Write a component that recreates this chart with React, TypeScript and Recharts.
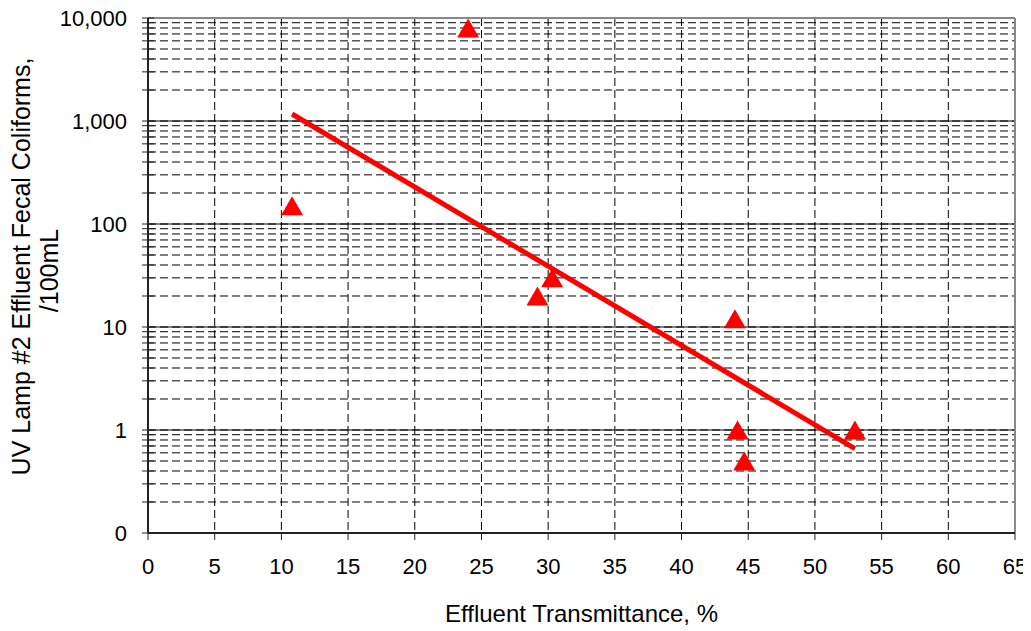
import React from "react";
import {
  ScatterChart, Scatter, XAxis, YAxis, CartesianGrid, ReferenceLine, Label,
} from "recharts";

// effluent transmittance (%) vs UV lamp #2 effluent fecal coliforms (/100mL)
const transmittance = [10.8, 24.0, 29.2, 30.3, 44.0, 44.2, 44.7, 53.0];
const coliforms = [150, 8000, 20, 30, 12, 1, 0.5, 1];

// exponential trendline end points
const trendX = [10.8, 53.0];
const trendY = [1170, 0.66];

const xTicks = [0, 5, 10, 15, 20, 25, 30, 35, 40, 45, 50, 55, 60, 65];
const yMajor = [0.1, 1, 10, 100, 1000, 10000];
const yLabels = ["0", "1", "10", "100", "1,000", "10,000"];
const yMinorSteps = [2, 3, 4, 5, 6, 7, 8, 9];

const points = transmittance.map((x, i) => ({ x, y: coliforms[i] }));
const trend = trendX.map((x, i) => ({ x, y: trendY[i] }));
const yTicks = [
  ...yMajor,
  ...yMajor.slice(0, -1).flatMap((d) => yMinorSteps.map((s) => d * s)),
].sort((a, b) => a - b);

const RED = "#ff0000";
const AXIS = "#222";

function Triangle(props: any) {
  const { cx, cy } = props;
  if (cx == null || cy == null) return <g />;
  return (
    <path
      d={`M${cx},${cy - 9.5} L${cx + 11},${cy + 9.5} L${cx - 11},${cy + 9.5} Z`}
      fill={RED}
    />
  );
}

function YTick(props: any) {
  const { x, y, payload } = props;
  const i = yMajor.indexOf(payload.value);
  return (
    <g>
      <line x1={x + 15} x2={x + 27} y1={y} y2={y} stroke={AXIS} />
      {i >= 0 && (
        <text x={x} y={y} dy="0.35em" textAnchor="end" fontSize={22} fill="#000">
          {yLabels[i]}
        </text>
      )}
    </g>
  );
}

function YTitle(props: any) {
  const vb = props.viewBox;
  const cy = vb.y + vb.height / 2;
  const y1 = cy - 9;
  const y2 = cy - 5;
  return (
    <g fontSize={25} fill="#000">
      <text x={13} y={y1} transform={`rotate(-90 13 ${y1})`} textAnchor="middle" dominantBaseline="central">
        UV Lamp #2 Effluent Fecal Coliforms,
      </text>
      <text x={41} y={y2} transform={`rotate(-90 41 ${y2})`} textAnchor="middle" dominantBaseline="central">
        /100mL
      </text>
    </g>
  );
}

export default function App() {
  return (
    <div style={{ fontFamily: "'Liberation Sans', Arial, sans-serif" }}>
      <style>{`.recharts-surface { overflow: visible; }`}</style>
      <ScatterChart width={1015} height={623} margin={{ top: 10, right: 8, bottom: 0, left: 0 }}>
        <CartesianGrid stroke="#000" strokeDasharray="8 4" />
        <XAxis
          type="number"
          dataKey="x"
          domain={[0, 65]}
          ticks={xTicks}
          interval={0}
          height={98}
          tickSize={7}
          tickMargin={18}
          tick={{ fill: "#000", fontSize: 22 }}
          tickLine={{ stroke: AXIS }}
          axisLine={{ stroke: AXIS, strokeWidth: 2 }}
        >
          <Label value="Effluent Transmittance, %" position="insideBottom" offset={9} fontSize={24} fill="#000" />
        </XAxis>
        <YAxis
          type="number"
          dataKey="y"
          scale="log"
          domain={[0.1, 10000]}
          allowDataOverflow
          ticks={yTicks}
          interval={0}
          width={140}
          tickSize={6}
          tickMargin={15}
          tickLine={false}
          tick={<YTick />}
          axisLine={{ stroke: AXIS, strokeWidth: 2 }}
        >
          <Label content={<YTitle />} />
        </YAxis>
        {yMajor.slice(1, -1).map((v) => (
          <ReferenceLine key={v} y={v} stroke="#000" strokeWidth={1} />
        ))}
        <ReferenceLine y={10000} stroke="#888" strokeWidth={2} />
        <ReferenceLine x={65} stroke="#888" strokeWidth={2} />
        <Scatter
          data={trend}
          line={{ stroke: RED, strokeWidth: 5 }}
          shape={() => <g />}
          isAnimationActive={false}
        />
        <Scatter data={points} shape={<Triangle />} isAnimationActive={false} />
      </ScatterChart>
    </div>
  );
}
